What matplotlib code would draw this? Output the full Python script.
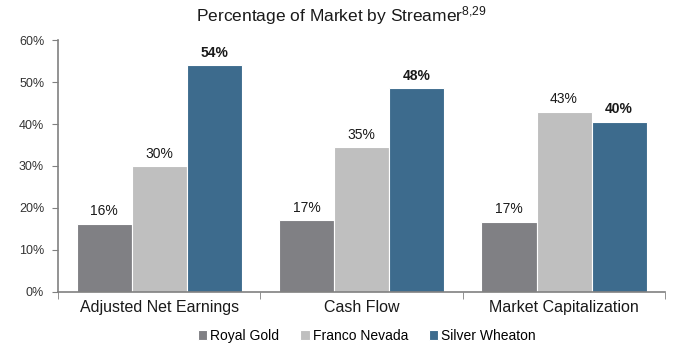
import matplotlib
matplotlib.use("Agg")
import matplotlib.pyplot as plt
import numpy as np

categories = ["Adjusted Net Earnings", "Cash Flow", "Market Capitalization"]
series_names = ["Royal Gold", "Franco Nevada", "Silver Wheaton"]
royal_gold = [16.2, 17.1, 16.7]
franco_nevada = [30.0, 34.5, 42.9]
silver_wheaton = [54.0, 48.5, 40.5]
value_labels = [["16%", "17%", "17%"], ["30%", "35%", "43%"], ["54%", "48%", "40%"]]
yticks = [0, 10, 20, 30, 40, 50, 60]

colors = ["#808084", "#BFBFBF", "#3D6B8D"]
bold = [False, False, True]

plt.rcParams['font.family'] = ['Liberation Sans', 'DejaVu Sans']
plt.rcParams['mathtext.fontset'] = 'custom'
plt.rcParams['mathtext.rm'] = 'Liberation Sans'
plt.rcParams['mathtext.it'] = 'Liberation Sans'

fig = plt.figure(figsize=(6.83, 3.52), dpi=100)
ax = fig.add_axes([0.085, 0.171, 0.889, 0.715])

x = np.arange(len(categories))
w = 0.272
data = [royal_gold, franco_nevada, silver_wheaton]
handles = []
for i, (vals, name) in enumerate(zip(data, series_names)):
    pos = x + (i - 1) * w
    b = ax.bar(pos, vals, width=w, color=colors[i], edgecolor="white", linewidth=0.8, label=name)
    handles.append(b)
    for p, v, lab in zip(pos, vals, value_labels[i]):
        ax.text(p, v + 1.3, lab, ha="center", va="bottom", fontsize=10,
                fontweight="bold" if bold[i] else "normal", color="#1a1a1a")

ax.set_xlim(-0.5, 2.5)
ax.set_ylim(0, 60)
ax.set_yticks(yticks)
ax.set_yticklabels([f"{t}%" for t in yticks], fontsize=9, color="#333333")
ax.set_xticks(x)
ax.set_xticklabels(categories, fontsize=11.5, color="#1a1a1a")
ax.tick_params(axis="x", which="major", length=0, pad=6)
ax.set_xticks([-0.5, 0.5, 1.5, 2.5], minor=True)
ax.tick_params(axis="x", which="minor", length=5, color="#808080", direction="out")
ax.tick_params(axis="y", length=4, color="#808080", direction="out", pad=6)

for s in ["top", "right"]:
    ax.spines[s].set_visible(False)
for s in ["left", "bottom"]:
    ax.spines[s].set_color("#808080")
    ax.spines[s].set_linewidth(1.2)

fig.text(0.5, 0.957, r"Percentage of Market by Streamer$^{\mathrm{8{,}29}}$", ha="center", va="center",
         fontsize=12.5, color="#1a1a1a")

leg = fig.legend(handles=handles, labels=series_names, loc="center", bbox_to_anchor=(0.537, 0.045),
                 ncol=3, frameon=False, fontsize=10, handlelength=0.7, handleheight=0.7,
                 handletextpad=0.2, columnspacing=1.5)

fig.savefig("out.png", dpi=100)
